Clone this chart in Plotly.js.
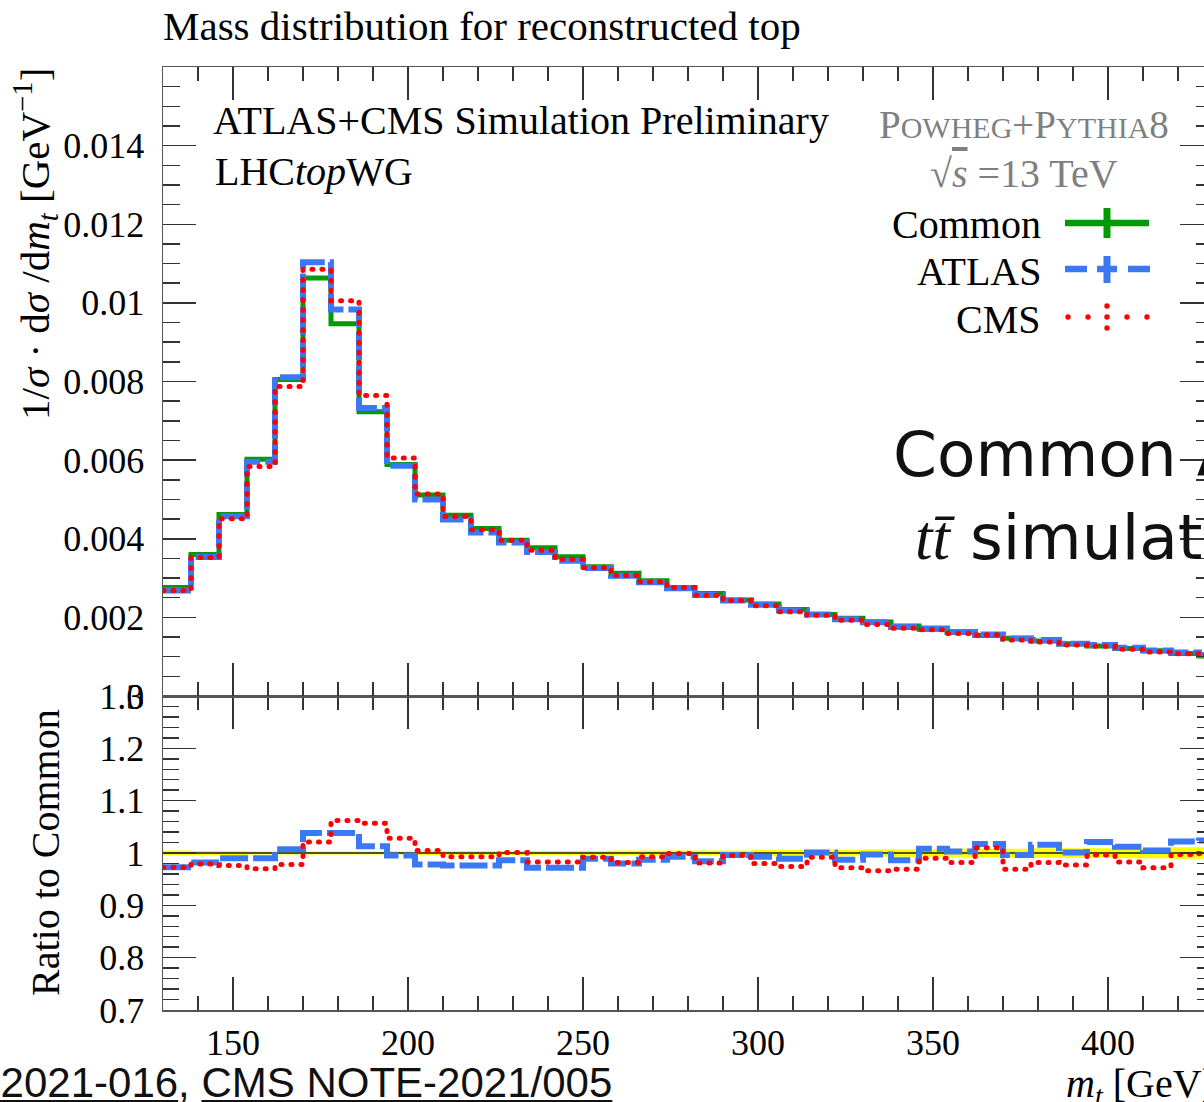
<!DOCTYPE html>
<html>
<head>
<meta charset="utf-8">
<script src="https://cdn.plot.ly/plotly-3.0.1.min.js"></script>
<style>
  html, body { margin: 0; padding: 0; overflow: hidden; background: #fff; }
  #chart { width: 1220px; height: 1102px; }
</style>
</head>
<body>
<div id="chart"></div>
<script>
// Reconstructed top-quark mass, 8 GeV bins starting at 130 GeV
var binEdges = [130, 138, 146, 154, 162, 170, 178, 186, 194, 202, 210, 218, 226, 234, 242,
  250, 258, 266, 274, 282, 290, 298, 306, 314, 322, 330, 338, 346, 354, 362, 370, 378,
  386, 394, 402, 410, 418, 426, 434];

// 1/sigma dsigma/dm_t [GeV^-1] per bin
var common = [0.00276, 0.00360, 0.00462, 0.00602, 0.00805, 0.01063, 0.00947, 0.00723,
  0.00589, 0.00511, 0.00460, 0.00426, 0.00396, 0.00377, 0.00354, 0.00329, 0.00312,
  0.00293, 0.00276, 0.00261, 0.00244, 0.00234, 0.00220, 0.00207, 0.00198, 0.00188,
  0.00178, 0.00170, 0.00162, 0.00154, 0.00147, 0.00140, 0.00133, 0.00127, 0.00121,
  0.00115, 0.00108, 0.00102];
var atlas = [0.002685, 0.003535, 0.004574, 0.00596, 0.008106, 0.011034, 0.00983, 0.007324,
  0.00586, 0.004998, 0.00449, 0.004158, 0.003905, 0.003664, 0.003441, 0.003254, 0.003058,
  0.002892, 0.002741, 0.002568, 0.00243, 0.002324, 0.002176, 0.002072, 0.001954, 0.001874,
  0.001755, 0.001714, 0.001625, 0.001566, 0.001464, 0.001422, 0.001331, 0.001297, 0.001225,
  0.001156, 0.001104, 0.001044];
var cms = [0.002685, 0.003524, 0.004509, 0.005839, 0.007873, 0.010853, 0.010057, 0.007642,
  0.006055, 0.005136, 0.004568, 0.00423, 0.003964, 0.003706, 0.00348, 0.003264, 0.003064,
  0.002909, 0.002757, 0.00256, 0.002428, 0.002293, 0.002143, 0.002053, 0.001925, 0.001816,
  0.001725, 0.001683, 0.001591, 0.001555, 0.001424, 0.001375, 0.001299, 0.001265, 0.001189,
  0.001118, 0.001077, 0.001019];

// Ratios to the common sample
var atlasRatio = [0.973, 0.982, 0.990, 0.990, 1.007, 1.038, 1.038, 1.013, 0.995, 0.978,
  0.976, 0.976, 0.986, 0.972, 0.972, 0.989, 0.980, 0.987, 0.993, 0.984,
  0.996, 0.993, 0.989, 1.001, 0.987, 0.997, 0.986, 1.008, 1.003, 1.017,
  0.996, 1.016, 1.001, 1.021, 1.012, 1.005, 1.022, 1.024];
var cmsRatio = [0.973, 0.979, 0.976, 0.970, 0.978, 1.021, 1.062, 1.057, 1.028, 1.005,
  0.993, 0.993, 1.001, 0.983, 0.983, 0.992, 0.982, 0.993, 0.999, 0.981,
  0.995, 0.980, 0.974, 0.992, 0.972, 0.966, 0.969, 0.990, 0.982, 1.010,
  0.969, 0.982, 0.977, 0.996, 0.983, 0.972, 0.997, 0.999];
// Relative statistical uncertainty of the common sample
var commonRelErr = [0.005, 0.004, 0.004, 0.003, 0.003, 0.003, 0.003, 0.003, 0.003, 0.004,
  0.004, 0.004, 0.004, 0.004, 0.004, 0.004, 0.005, 0.005, 0.005, 0.005,
  0.005, 0.006, 0.006, 0.006, 0.006, 0.007, 0.007, 0.007, 0.008, 0.008,
  0.008, 0.009, 0.009, 0.009, 0.010, 0.010, 0.011, 0.011];

var mainTickVals = [0, 0.002, 0.004, 0.006, 0.008, 0.01, 0.012, 0.014];
var mainTickText = ['0', '0.002', '0.004', '0.006', '0.008', '0.01', '0.012', '0.014'];
var ratioTickVals = [0.7, 0.8, 0.9, 1, 1.1, 1.2, 1.3];
var ratioTickText = ['0.7', '0.8', '0.9', '1', '1.1', '1.2', '1.3'];

var GREEN = '#029a02', BLUE = '#3a78f4', RED = '#ff0000', GREY = '#7f7f7f';
var SERIF = '"Liberation Serif", "DejaVu Serif", serif';
var SANS = '"DejaVu Sans", "Liberation Sans", sans-serif';

// frame geometry in page pixels
var FL = 163, FR = 1213, FT = 67, FB = 1010, SPLIT = 696, H = 1102;
function px(x) { return (x - FL) / (FR - FL); }
function py(y) { return (FB - y) / (FB - FT); }
var split = py(SPLIT);

// histogram step helper: repeat the last value to close the final bin
function steps(vals) { return vals.concat([vals[vals.length - 1]]); }

var bandLow = commonRelErr.map(function (e) { return 1 - e; });
var bandHigh = commonRelErr.map(function (e) { return 1 + e; });
var commonSelf = common.map(function (v) { return v / v; });

var DASH = '28px,5px';
var traces = [
  { x: binEdges, y: steps(bandLow), xaxis: 'x', yaxis: 'y', mode: 'lines',
    line: { width: 0, shape: 'hv' }, hoverinfo: 'skip' },
  { x: binEdges, y: steps(bandHigh), xaxis: 'x', yaxis: 'y', mode: 'lines', fill: 'tonexty',
    fillcolor: '#ffff00', line: { width: 0, shape: 'hv' }, hoverinfo: 'skip' },
  { x: binEdges, y: steps(commonSelf), xaxis: 'x', yaxis: 'y', mode: 'lines',
    line: { color: '#1a1a1a', width: 1.5, shape: 'hv' } },
  { x: binEdges, y: steps(atlasRatio), xaxis: 'x', yaxis: 'y', mode: 'lines',
    line: { color: BLUE, width: 6, shape: 'hv', dash: DASH } },
  { x: binEdges, y: steps(cmsRatio), xaxis: 'x', yaxis: 'y', mode: 'lines',
    line: { color: RED, width: 5, shape: 'hv', dash: '1px,9px' } },

  { name: 'Common', x: binEdges, y: steps(common), xaxis: 'x2', yaxis: 'y2', mode: 'lines',
    line: { color: GREEN, width: 5, shape: 'hv' } },
  { name: 'ATLAS', x: binEdges, y: steps(atlas), xaxis: 'x2', yaxis: 'y2', mode: 'lines',
    line: { color: BLUE, width: 6, shape: 'hv', dash: DASH } },
  { name: 'CMS', x: binEdges, y: steps(cms), xaxis: 'x2', yaxis: 'y2', mode: 'lines',
    line: { color: RED, width: 5, shape: 'hv', dash: '1px,9px' } }
];

function axis(extra) {
  var a = {
    ticks: 'inside', ticklen: 33, tickwidth: 1.5, tickcolor: '#333',
    showline: true, linecolor: '#555', linewidth: 1.5, mirror: 'allticks',
    showgrid: false, zeroline: false, fixedrange: true,
    tickfont: { family: SERIF, size: 36, color: '#000' }
  };
  for (var k in extra) a[k] = extra[k];
  return a;
}

var layout = {
  width: 1220, height: H,
  margin: { l: FL, r: 1220 - FR, t: FT, b: H - FB, pad: 0 },
  paper_bgcolor: '#ffffff', plot_bgcolor: 'rgba(0,0,0,0)',
  showlegend: false,
  font: { family: SERIF, size: 36, color: '#000' },
  title: { text: 'Mass distribution for reconstructed top', xref: 'paper', x: 0, xanchor: 'left',
    yref: 'container', y: 1 - 26 / H, yanchor: 'middle', font: { family: SERIF, size: 41, color: '#000' } },
  xaxis: axis({ anchor: 'y', domain: [0, 1], range: [130, 430], tick0: 0, dtick: 50,
    ticklabelstandoff: 0,
    minor: { ticks: 'inside', ticklen: 14, tickwidth: 1.5, tickcolor: '#333', dtick: 10, tick0: 0 } }),
  yaxis: axis({ anchor: 'x', domain: [0, split], range: [0.7, 1.3],
    tickmode: 'array', tickvals: ratioTickVals, ticktext: ratioTickText, ticklabelstandoff: 10,
    minor: { ticks: 'inside', ticklen: 16, tickwidth: 1.5, tickcolor: '#333', dtick: 0.02, tick0: 0.7 } }),
  xaxis2: axis({ anchor: 'y2', domain: [0, 1], range: [130, 430], tick0: 0, dtick: 50,
    showticklabels: false,
    minor: { ticks: 'inside', ticklen: 14, tickwidth: 1.5, tickcolor: '#333', dtick: 10, tick0: 0 } }),
  yaxis2: axis({ anchor: 'x2', domain: [split, 1], range: [0, 0.016],
    tickmode: 'array', tickvals: mainTickVals, ticktext: mainTickText, ticklabelstandoff: 10,
    minor: { ticks: 'inside', ticklen: 17, tickwidth: 1.5, tickcolor: '#333', dtick: 0.0005, tick0: 0 } }),
  annotations: [],
  shapes: []
};

function note(text, x, y, opts) {
  var a = { text: text, xref: 'paper', yref: 'paper', x: px(x), y: py(y), showarrow: false,
    xanchor: 'left', yanchor: 'middle', font: { family: SERIF, size: 40, color: '#000' } };
  for (var k in opts) a[k] = opts[k];
  layout.annotations.push(a);
}

note('ATLAS+CMS Simulation Preliminary', 211, 121);
note('LHC<i>top</i>WG', 213, 171);
note('P<span style="font-size:30px">OWHEG</span>+P<span style="font-size:30px">YTHIA</span>8',
  1171, 125, { xanchor: 'right', font: { family: SERIF, size: 39, color: GREY } });
note('√<span style="text-decoration:overline"><i>s</i></span> =13 TeV', 1024, 174,
  { xanchor: 'center', font: { family: SERIF, size: 40, color: GREY } });
note('Common', 1043, 224, { xanchor: 'right' });
note('ATLAS', 1043, 271, { xanchor: 'right' });
note('CMS', 1043, 319, { xanchor: 'right' });

note('1/<i>σ</i> · d<i>σ</i> /d<i>m</i><sub><i>t</i></sub> [GeV<sup>−1</sup>]', 35, 66,
  { textangle: -90, xanchor: 'center', yanchor: 'top', font: { family: SERIF, size: 41, color: '#000' } });
note('Ratio to Common', 45, 853,
  { textangle: -90, xanchor: 'center', font: { family: SERIF, size: 40, color: '#000' } });
note('<i>m</i><sub><i>t</i></sub> [GeV]', 1064, 1086);

note('Common ATLAS', 891, 455, { font: { family: SANS, size: 63, color: '#111' } });
note('<span style="font-family:Liberation Serif"><i>tt̄</i></span> simulation', 913, 537,
  { font: { family: SANS, size: 63, color: '#111' } });
note('<span style="text-decoration:underline">ATL-PHYS-PUB-2021-016</span>, ' +
  '<span style="text-decoration:underline">CMS NOTE-2021/005</span>', 614, 1082,
  { xanchor: 'right', font: { family: '"Liberation Sans", Arial, sans-serif', size: 42, color: '#111' } });

// legend glyphs
function seg(x0, y0, x1, y1, color, w) {
  layout.shapes.push({ type: 'line', xref: 'paper', yref: 'paper', x0: px(x0), y0: py(y0),
    x1: px(x1), y1: py(y1), line: { color: color, width: w }, layer: 'above' });
}
function dot(x, y, r, color) {
  layout.shapes.push({ type: 'circle', xref: 'paper', yref: 'paper', x0: px(x - r), x1: px(x + r),
    y0: py(y + r), y1: py(y - r), fillcolor: color, line: { width: 0 }, layer: 'above' });
}
seg(1065, 223, 1149, 223, GREEN, 6.5);
seg(1107, 208, 1107, 238, GREEN, 7);
seg(1065, 269, 1087, 269, BLUE, 6.5);
seg(1097, 269, 1117, 269, BLUE, 6.5);
seg(1128, 269, 1150, 269, BLUE, 6.5);
seg(1107, 256, 1107, 283, BLUE, 7);
[1068, 1088, 1107, 1127, 1147].forEach(function (x) { dot(x, 317, 2.7, RED); });
dot(1107, 306, 2.7, RED);
dot(1107, 328, 2.7, RED);

var gd = document.getElementById('chart');
Plotly.newPlot(gd, traces, layout, { displayModeBar: false, staticPlot: true }).then(function () {
  // round caps turn the short red dashes into dots
  gd.querySelectorAll('path.js-line').forEach(function (p) {
    if ((p.style.stroke || '').replace(/\s/g, '') === 'rgb(255,0,0)') p.style.strokeLinecap = 'round';
  });
});
</script>
</body>
</html>
